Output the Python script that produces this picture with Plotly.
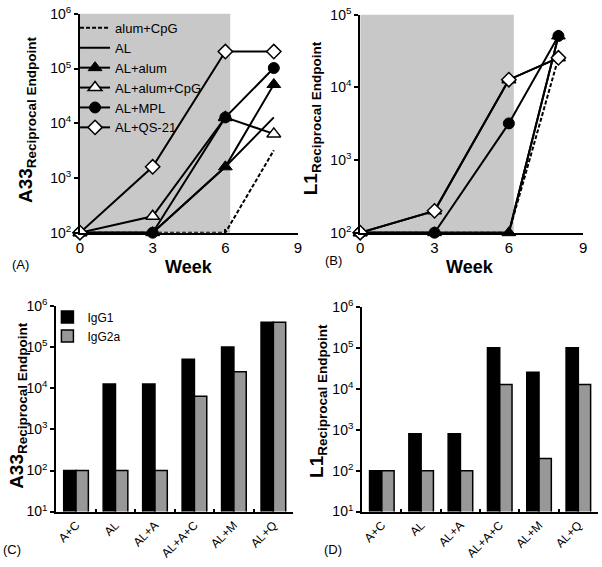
import plotly.graph_objects as go

# ---- data ----------------------------------------------------------------
weeks = [0, 3, 6, 8]
series_names = ["alum+CpG", "AL", "AL+alum", "AL+alum+CpG", "AL+MPL", "AL+QS-21"]

# panel A : A33 endpoint titres
a_alum_cpg = [100, 100, 100, 3200]
a_al = [100, 100, 1600, 12800]
a_al_alum = [100, 100, 1600, 51200]
a_al_alum_cpg = [100, 200, 12800, 6400]
a_al_mpl = [100, 100, 12800, 102400]
a_al_qs21 = [100, 1600, 204800, 204800]

# panel B : L1 endpoint titres
b_alum_cpg = [100, 100, 100, 25600]
b_al = [100, 100, 100, 51200]
b_al_alum = [100, 100, 100, 51200]
b_al_alum_cpg = [100, 200, 12800, 25600]
b_al_mpl = [100, 100, 3200, 51200]
b_al_qs21 = [100, 200, 12800, 25600]

# panels C / D : isotypes
groups = ["A+C", "AL", "AL+A", "AL+A+C", "AL+M", "AL+Q"]
c_igg1 = [100, 12800, 12800, 51200, 102400, 409600]
c_igg2a = [100, 100, 100, 6400, 25600, 409600]
d_igg1 = [100, 800, 800, 102400, 25600, 102400]
d_igg2a = [100, 100, 100, 12800, 200, 12800]

# ---- styles --------------------------------------------------------------
FONT = "Arial, Liberation Sans, sans-serif"
styles = {
    "alum+CpG": dict(mode="lines", line=dict(color="black", width=2, dash="4px,2px")),
    "AL": dict(mode="lines", line=dict(color="black", width=2)),
    "AL+alum": dict(mode="lines+markers", line=dict(color="black", width=2),
                    marker=dict(symbol="triangle-up", size=12, color="black",
                                line=dict(color="black", width=1))),
    "AL+alum+CpG": dict(mode="lines+markers", line=dict(color="black", width=2),
                        marker=dict(symbol="triangle-up", size=12, color="white",
                                    line=dict(color="black", width=1.5))),
    "AL+MPL": dict(mode="lines+markers", line=dict(color="black", width=2),
                   marker=dict(symbol="circle", size=11, color="black",
                               line=dict(color="black", width=1))),
    "AL+QS-21": dict(mode="lines+markers", line=dict(color="black", width=2),
                     marker=dict(symbol="diamond", size=11, color="white",
                                 line=dict(color="black", width=1.5))),
}

fig = go.Figure()

a_vals = [a_alum_cpg, a_al, a_al_alum, a_al_alum_cpg, a_al_mpl, a_al_qs21]
b_vals = [b_alum_cpg, b_al, b_al_alum, b_al_alum_cpg, b_al_mpl, b_al_qs21]
for name, ya in zip(series_names, a_vals):
    fig.add_trace(go.Scatter(x=weeks, y=ya, name=name, xaxis="x", yaxis="y",
                             cliponaxis=False, legend="legend", **styles[name]))
for name, yb in zip(series_names, b_vals):
    fig.add_trace(go.Scatter(x=weeks, y=yb, name=name, xaxis="x2", yaxis="y2",
                             cliponaxis=False, showlegend=False, **styles[name]))

bar_line = dict(color="black", width=1.5)
fig.add_trace(go.Bar(x=groups, y=c_igg1, name="IgG1", xaxis="x3", yaxis="y3",
                     marker=dict(color="black", line=bar_line), legend="legend2"))
fig.add_trace(go.Bar(x=groups, y=c_igg2a, name="IgG2a", xaxis="x3", yaxis="y3",
                     marker=dict(color="#989898", line=bar_line), legend="legend2"))
fig.add_trace(go.Bar(x=groups, y=d_igg1, name="IgG1", xaxis="x4", yaxis="y4",
                     marker=dict(color="black", line=bar_line), showlegend=False))
fig.add_trace(go.Bar(x=groups, y=d_igg2a, name="IgG2a", xaxis="x4", yaxis="y4",
                     marker=dict(color="#989898", line=bar_line), showlegend=False))

# ---- axes ----------------------------------------------------------------
H = 567.0
W = 602.0
def py(p):  # pixel (from top) -> paper
    return (H - p) / H
def px_(p):
    return p / W

def log_ticks(lo, hi):
    vals = [10 ** k for k in range(lo, hi + 1)]
    text = ["10<sup>%d</sup>" % k for k in range(lo, hi + 1)]
    return vals, text

common_line = dict(showline=True, linecolor="black", linewidth=2, showgrid=False,
                   zeroline=False, ticks="outside", ticklen=4, tickwidth=1.5,
                   tickcolor="black")

week_axis = dict(common_line, range=[0, 9], tickvals=[0, 3, 6, 9], ticks="inside",
                 tickfont=dict(size=15, family=FONT, color="black"))

tv6, tt6 = log_ticks(2, 6)
tv5, tt5 = log_ticks(2, 5)
tv16, tt16 = log_ticks(1, 6)

ytick_font = dict(size=14, family=FONT, color="black")
cat_font = dict(size=12, family=FONT, color="black")

fig.update_layout(
    xaxis=dict(week_axis, domain=[px_(77), px_(298)], anchor="y"),
    yaxis=dict(common_line, type="log", range=[2, 6], domain=[py(230), py(4)],
               anchor="x", tickvals=tv6, ticktext=tt6, tickfont=ytick_font),
    xaxis2=dict(week_axis, domain=[px_(361), px_(587)], anchor="y2"),
    yaxis2=dict(common_line, type="log", range=[2, 5], domain=[py(230), py(5)],
                anchor="x2", tickvals=tv5, ticktext=tt5, tickfont=ytick_font),
    xaxis3=dict(common_line, domain=[px_(53), px_(293)], anchor="y3", type="category",
                range=[-0.5, 5.5], tickson="boundaries", ticks="inside", ticklen=3,
                tickangle=-45, tickfont=cat_font),
    yaxis3=dict(common_line, type="log", range=[1, 6], domain=[py(518), py(306)],
                anchor="x3", tickvals=tv16, ticktext=tt16, tickfont=ytick_font),
    xaxis4=dict(common_line, domain=[px_(363), 1.0], anchor="y4", type="category",
                range=[-0.5, 5.5], tickson="boundaries", ticks="inside", ticklen=3,
                tickangle=-45, tickfont=cat_font),
    yaxis4=dict(common_line, type="log", range=[1, 6], domain=[py(518), py(307)],
                anchor="x4", tickvals=tv16, ticktext=tt16, tickfont=ytick_font),
    barmode="group",
    bargap=0.375,
    bargroupgap=0,
    width=602,
    height=567,
    margin=dict(l=0, r=0, t=0, b=0),
    paper_bgcolor="white",
    plot_bgcolor="white",
    font=dict(family=FONT, color="black"),
    legend=dict(x=px_(72), y=py(3), xanchor="left", yanchor="top",
                bgcolor="rgba(0,0,0,0)", font=dict(size=13, family=FONT),
                traceorder="normal"),
    legend2=dict(x=px_(44), y=py(302), xanchor="left", yanchor="top",
                 bgcolor="rgba(0,0,0,0)", font=dict(size=12, family=FONT),
                 traceorder="normal"),
)

# shaded dosing period
for xr, yr in [("x", "y domain"), ("x2", "y2 domain")]:
    fig.add_shape(type="rect", xref=xr, yref=yr, x0=0, x1=6.2, y0=0, y1=1,
                  fillcolor="#c8c8c8", line=dict(width=0), layer="below")

# ---- text ----------------------------------------------------------------
def ytitle(label, x, y):
    fig.add_annotation(
        text="<b>%s<sub><span style='font-size:13.5px'>Reciprocal Endpoint</span></sub></b>" % label,
        xref="paper", yref="paper", x=px_(x), y=py(y), textangle=-90,
        showarrow=False, xanchor="center", yanchor="middle",
        font=dict(size=19, family=FONT, color="black"))

ytitle("A33", 24, 113)
ytitle("L1", 313, 112)
ytitle("A33", 14, 408)
ytitle("L1", 318, 404)

for xc in [187, 472]:
    fig.add_annotation(text="<b>Week</b>", xref="paper", yref="paper", x=px_(xc),
                       y=py(265), showarrow=False, xanchor="center", yanchor="middle",
                       font=dict(size=18, family=FONT, color="black"))

for lab, x, y in [("(A)", 17, 263), ("(B)", 334, 259), ("(C)", 8, 557), ("(D)", 333, 557)]:
    fig.add_annotation(text=lab, xref="paper", yref="paper", x=px_(x), y=py(y),
                       showarrow=False, xanchor="center", yanchor="middle",
                       font=dict(size=13, family=FONT, color="black"))

# page body has an 8px default margin; drop it so the figure sits at (0,0)
fig.write_html("out.html", config={"displayModeBar": False},
               post_script="document.body.style.margin='0';")
